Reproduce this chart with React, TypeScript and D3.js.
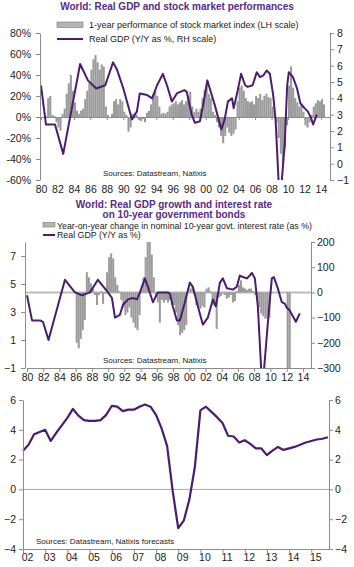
import { useEffect, useRef } from 'react'
import * as d3 from 'd3'

const FONT = '"Liberation Sans", Arial, sans-serif'
const PURPLE = '#4b1d6e'
const TITLE = '#5a2a86'
const BAR = '#9a9a9a'
const AXIS = '#8c8c8c'

// Panel 1: 1-year stock market performance (%), quarterly from 1980Q1
const stockStart = 1980
const stockPerf = [
  0, 0, 1, 18, 20, 2, 1, -5, -10, -13,
  3, 8, 22, 32, 40, 25, 14, 6, 3, 6,
  8, 17, 25, 33, 45, 55, 59, 52, 45, 50,
  48, 10, 2, 0, 3, 15, 17, 12, 17, 15,
  5, 2, -14, -10, 3, 4, 2, -3, -4, -2,
  -5, 4, 6, 12, 22, 25, 20, 10, 3, 4,
  3, 5, 10, 12, 13, 15, 12, 14, 16, 12,
  15, 20, 24, 10, 5, 8, 5, 8, 18, 26,
  30, 22, 18, 5, 2, -5, -10, -18, -25, -18,
  -10, -15, -18, -16, -12, 15, 28, 30, 25, 18,
  15, 14, 15, 12, 20, 18, 22, 16, 20, 22,
  19, 18, 10, 3, -5, -20, -35, -45, -30, -8,
  30, 48, 28, 18, 14, 10, 12, 5, -8, -10,
  -5, 2, 10, 13, 16, 15, 17, 12
]

const gdp1Years = [
  1980.0, 1980.6, 1981.7, 1982.7, 1984.75, 1985.7, 1986.7, 1987.8, 1988.75, 1989.2,
  1990.0, 1991.05, 1991.65, 1992.0, 1992.9, 1993.5, 1994.1, 1994.8, 1995.3, 1995.9,
  1996.5, 1997.4, 1997.7, 1998.3, 1998.7, 1999.3, 1999.7, 2000.2, 2000.5, 2001.1,
  2001.9, 2002.3, 2002.7, 2003.2, 2003.4, 2003.9, 2004.3, 2004.8, 2005.1, 2005.7,
  2006.2, 2006.6, 2007.0, 2007.4, 2007.8, 2008.2, 2008.5, 2009.0, 2009.6, 2009.9,
  2010.1, 2010.6, 2011.1, 2011.5, 2012.0, 2012.4, 2012.8, 2013.05, 2013.5
]
const gdp1Values = [
  4.8, 2.4, 2.4, 0.6, 6.1, 5.1, 4.6, 4.8, 6.2, 5.8,
  4.6, 2.7, 3.2, 4.3, 4.2, 4.0, 4.8, 5.5, 4.8, 3.8,
  4.3, 4.5, 4.4, 3.0, 2.5, 2.6, 3.6, 5.1, 4.6, 3.6,
  2.1, 2.7, 3.8, 4.0, 3.4, 4.5, 5.5, 4.8, 4.7, 4.8,
  5.6, 5.3, 5.4, 5.7, 5.5, 4.2, 2.6, -2.6, 1.2, 4.8,
  5.6, 5.3, 4.6, 3.7, 3.4, 3.2, 2.8, 2.4, 3.0
]

// Panel 2: Y/Y change in 10-year govt. rate, quarterly from 1986Q1
const rateStart = 1986
const rateChange = [
  -200, -222, -185, -150, -110, 80, 60, 36, 15, -10,
  -50, -10, 5, -45, -5, 80, 140, 155, 135, 60,
  30, 5, -30, -60, -90, -80, -60, -100, -120, -140,
  -150, -90, 10, 60, 140, 200, 200, 150, 60, -20,
  -40, -120, -30, -40, -30, -40, -30, -50, -50, -80,
  -130, -170, -160, -150, -130, 0, 15, 20, -10, -50,
  -60, -65, -55, -60, 15, 20, 5, -50, -55, -145,
  -20, -15, -5, -10, -25, -20, -10, -40, -35, 5,
  30, 48, 20, 15, 10, 15, 15, 5, -10, -20,
  -60, -85, -95, -105, -100, -100, 0, 0, 0, 0,
  0, 0, 0, 0, -300, -300
]

const gdp2Years = [
  1980.0, 1980.62, 1981.6, 1981.97, 1982.65, 1984.68, 1985.91, 1986.77, 1987.76, 1988.74,
  1989.98, 1990.47, 1990.84, 1991.45, 1991.82, 1992.44, 1993.05, 1993.55, 1993.92, 1994.53,
  1994.9, 1995.52, 1996.13, 1997.36, 1997.61, 1997.98, 1998.47, 1998.84, 1999.46, 2000.07,
  2000.44, 2001.06, 2001.67, 2002.29, 2002.91, 2003.28, 2003.77, 2004.14, 2004.63, 2005.37,
  2005.86, 2006.23, 2006.6, 2007.09, 2007.46, 2007.71, 2008.08, 2008.45, 2009.0, 2009.68,
  2010.17, 2010.42, 2010.91, 2011.4, 2011.77, 2012.02, 2012.39, 2012.76, 2013.13, 2013.62
]
const gdp2Values = [
  4.2, 2.4, 2.4, 2.3, 1.0, 5.3, 4.4, 4.2, 4.4, 5.3,
  4.4, 4.0, 2.6, 2.8, 3.5, 3.9, 4.0, 3.9, 4.4, 5.4,
  4.8, 3.7, 4.4, 4.4, 4.3, 3.4, 2.4, 2.4, 3.7, 5.1,
  4.8, 3.4, 2.1, 2.6, 3.9, 3.4, 5.1, 5.4, 4.7, 4.6,
  4.8, 5.6, 5.5, 5.4, 5.6, 5.8, 5.4, 3.4, -2.6, 2.2,
  5.4, 5.5, 4.7, 3.7, 3.6, 3.3, 3.1, 2.7, 2.3, 2.9
]

// Panel 3: Real GDP incl. forecasts, quarterly 2002Q1 - 2015Q4
const gdp3Start = 2002
const gdp3Values = [
  2.6, 3.0, 3.7, 3.85, 4.0, 3.25, 3.8, 4.3, 4.8, 5.4,
  4.95, 4.65, 4.6, 4.6, 4.65, 5.0, 5.6, 5.55, 5.25, 5.35,
  5.35, 5.55, 5.7, 5.55, 5.0, 4.1, 2.9, -0.1, -2.6, -2.1,
  -0.7, 1.5, 5.3, 5.55, 5.2, 4.85, 4.45, 3.6, 3.55, 3.15,
  3.3, 3.05, 2.75, 2.75, 2.3, 2.6, 2.85, 2.65, 2.75, 2.85,
  3.0, 3.15, 3.25, 3.35, 3.4, 3.5
]

const years1 = d3.range(1980, 2015, 2)
const yearsPanel3 = d3.range(2002, 2016)

function styleAxis(g: d3.Selection<SVGGElement, unknown, null, undefined>, size = 10.5) {
  g.select('.domain').attr('stroke', AXIS)
  g.selectAll('.tick line').attr('stroke', AXIS)
  g.selectAll('.tick text').attr('fill', '#222').style('font-size', `${size}px`).style('font-family', FONT)
}

export default function App() {
  const svgRef = useRef<SVGSVGElement>(null)

  useEffect(() => {
    if (!svgRef.current) return
    const svg = d3.select(svgRef.current)
    svg.selectAll('*').remove()
    const defs = svg.append('defs')

    const text = (x: number, y: number, s: string, size: number, opts: any = {}) =>
      svg.append('text')
        .attr('x', x).attr('y', y)
        .attr('text-anchor', opts.anchor || 'start')
        .style('font-family', FONT)
        .style('font-size', `${size}px`)
        .style('font-weight', opts.bold ? 'bold' : 'normal')
        .attr('fill', opts.fill || '#222')
        .text(s)

    // ---------- Panel 1 ----------
    const x1 = d3.scaleLinear().domain([1980, 2015.1]).range([41, 330])
    const yL1 = d3.scaleLinear().domain([-60, 80]).range([180, 33])
    const yR1 = d3.scaleLinear().domain([-1, 8]).range([180, 33])

    text(177, 9.5, 'World: Real GDP and stock market performances', 10, { anchor: 'middle', bold: true, fill: TITLE })
    svg.append('rect').attr('x', 57).attr('y', 22).attr('width', 26).attr('height', 5.5)
      .attr('fill', '#b4b4b4').attr('stroke', '#7a7a7a').attr('stroke-width', 0.6)
    text(89, 28, '1-year performance of stock market index (LH scale)', 9)
    svg.append('line').attr('x1', 57).attr('x2', 83).attr('y1', 39).attr('y2', 39)
      .attr('stroke', PURPLE).attr('stroke-width', 2)
    text(89, 42, 'Real GDP (Y/Y as %, RH scale)', 9)

    defs.append('clipPath').attr('id', 'clip1').append('rect')
      .attr('x', 40).attr('y', 33).attr('width', 290).attr('height', 147)

    const p1 = svg.append('g')
    p1.append('g').attr('clip-path', 'url(#clip1)')
      .selectAll('rect')
      .data(stockPerf)
      .enter().append('rect')
      .attr('x', (_, i) => x1(stockStart + i / 4))
      .attr('width', x1(stockStart + 0.25) - x1(stockStart))
      .attr('y', d => yL1(Math.max(0, d)))
      .attr('height', d => Math.abs(yL1(d) - yL1(0)))
      .attr('fill', BAR)

    // zero line with ticks
    const zero1 = p1.append('g').attr('transform', `translate(0,${yL1(0)})`)
      .call(d3.axisBottom(x1).tickValues(years1).tickFormat(() => '').tickSize(3).tickSizeOuter(0))
    styleAxis(zero1)

    const line1 = d3.line<number>()
      .x((_, i) => x1(gdp1Years[i]))
      .y(d => yR1(d))
    p1.append('path').attr('clip-path', 'url(#clip1)')
      .datum(gdp1Values)
      .attr('d', line1)
      .attr('fill', 'none').attr('stroke', PURPLE).attr('stroke-width', 2).attr('stroke-linejoin', 'round')

    const left1 = p1.append('g').attr('transform', 'translate(40,0)')
      .call(d3.axisLeft(yL1).tickValues(d3.range(-60, 81, 20)).tickFormat(d => `${d}%`).tickSize(4).tickPadding(5).tickSizeOuter(0))
    styleAxis(left1)
    const right1 = p1.append('g').attr('transform', 'translate(330,0)')
      .call(d3.axisRight(yR1).tickValues(d3.range(-1, 9)).tickSize(4).tickPadding(3).tickSizeOuter(0))
    styleAxis(right1)
    const xl1 = p1.append('g').attr('transform', 'translate(0,180)')
      .call(d3.axisBottom(x1).tickValues(years1).tickFormat(d => String(d).slice(2)).tickSize(0).tickPadding(6))
    xl1.select('.domain').remove()
    styleAxis(xl1)

    text(103, 176, 'Sources: Datastream,  Natixis', 8)

    // ---------- Panel 2 ----------
    const x2 = d3.scaleLinear().domain([1980, 2015]).range([27, 311])
    const yL2 = d3.scaleLinear().domain([-1, 8]).range([368, 242])
    const yR2 = d3.scaleLinear().domain([-300, 200]).range([368, 242])

    text(174, 207.5, 'World: Real GDP growth and interest rate', 10, { anchor: 'middle', bold: true, fill: TITLE })
    text(174, 217.5, 'on 10-year government bonds', 10, { anchor: 'middle', bold: true, fill: TITLE })
    svg.append('rect').attr('x', 43).attr('y', 222.5).attr('width', 12).attr('height', 4.5)
      .attr('fill', '#b4b4b4').attr('stroke', '#7a7a7a').attr('stroke-width', 0.6)
    text(57, 228.5, 'Year-on-year change in nominal 10-year govt. interest rate (as %)', 8.8)
    svg.append('line').attr('x1', 43).attr('x2', 55).attr('y1', 235).attr('y2', 235)
      .attr('stroke', PURPLE).attr('stroke-width', 2)
    text(57, 238, 'Real GDP (Y/Y as %)', 8.8)

    defs.append('clipPath').attr('id', 'clip2').append('rect')
      .attr('x', 25).attr('y', 242).attr('width', 286).attr('height', 126)

    const p2 = svg.append('g')
    p2.append('line').attr('x1', 25).attr('x2', 311).attr('y1', yR2(0)).attr('y2', yR2(0))
      .attr('stroke', '#bcbcbc').attr('stroke-width', 2)
    p2.append('g').attr('clip-path', 'url(#clip2)')
      .selectAll('rect')
      .data(rateChange)
      .enter().append('rect')
      .attr('x', (_, i) => x2(rateStart + i / 4))
      .attr('width', x2(rateStart + 0.25) - x2(rateStart))
      .attr('y', d => yR2(Math.max(0, d)))
      .attr('height', d => Math.abs(yR2(d) - yR2(0)))
      .attr('fill', BAR)

    const line2 = d3.line<number>()
      .x((_, i) => x2(gdp2Years[i]))
      .y(d => yL2(d))
    p2.append('path').attr('clip-path', 'url(#clip2)')
      .datum(gdp2Values)
      .attr('d', line2)
      .attr('fill', 'none').attr('stroke', PURPLE).attr('stroke-width', 2).attr('stroke-linejoin', 'round')

    const left2 = p2.append('g').attr('transform', 'translate(25,0)')
      .call(d3.axisLeft(yL2).tickValues([-1, 1, 3, 5, 7]).tickSize(4).tickPadding(5).tickSizeOuter(0))
    styleAxis(left2)
    const right2 = p2.append('g').attr('transform', 'translate(311,0)')
      .call(d3.axisRight(yR2).tickValues(d3.range(-300, 201, 100)).tickSize(4).tickPadding(2).tickSizeOuter(0))
    styleAxis(right2)
    const xl2 = p2.append('g').attr('transform', 'translate(0,368)')
      .call(d3.axisBottom(x2).tickValues(years1).tickFormat(d => String(d).slice(2)).tickSize(4).tickPadding(2).tickSizeOuter(0))
    styleAxis(xl2)

    text(103, 363, 'Sources: Datastream,  Natixis', 8)

    // ---------- Panel 3 ----------
    const x3 = d3.scaleLinear().domain([2002, 2015.8]).range([23, 329])
    const y3 = d3.scaleLinear().domain([-4, 6]).range([549, 400])

    const p3 = svg.append('g')
    p3.append('line').attr('x1', 23).attr('x2', 329).attr('y1', y3(0)).attr('y2', y3(0))
      .attr('stroke', '#a8a8a8').attr('stroke-width', 1)

    const line3 = d3.line<number>()
      .x((_, i) => x3(gdp3Start + i / 4))
      .y(d => y3(d))
    p3.append('path')
      .datum(gdp3Values)
      .attr('d', line3)
      .attr('fill', 'none').attr('stroke', PURPLE).attr('stroke-width', 2.2).attr('stroke-linejoin', 'round')

    const left3 = p3.append('g').attr('transform', 'translate(23,0)')
      .call(d3.axisLeft(y3).tickValues(d3.range(-4, 7, 2)).tickSize(4).tickPadding(3).tickSizeOuter(0))
    styleAxis(left3)
    const right3 = p3.append('g').attr('transform', 'translate(329,0)')
      .call(d3.axisRight(y3).tickValues(d3.range(-4, 7, 2)).tickSize(4).tickPadding(2).tickSizeOuter(0))
    styleAxis(right3)
    const xl3 = p3.append('g').attr('transform', 'translate(0,549)')
      .call(d3.axisBottom(x3).tickValues(yearsPanel3).tickFormat(d => String(d).slice(2)).tickSize(4).tickPadding(1).tickSizeOuter(0))
    xl3.selectAll('.tick text').attr('dx', 4)
    styleAxis(xl3)

    text(36, 544, 'Sources: Datastream,  Natixis forecasts', 8)
  }, [])

  return (
    <svg ref={svgRef} width={354} height={567}
      style={{ position: 'absolute', left: 0, top: 0, background: '#fff' }} />
  )
}
